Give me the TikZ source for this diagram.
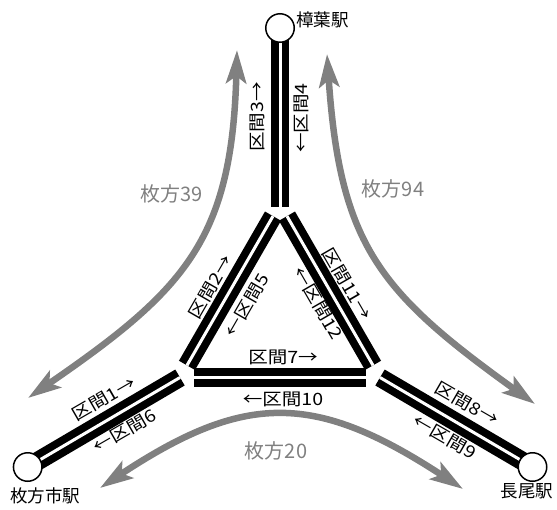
\documentclass[tikz,border=0pt]{standalone}
\usepackage{fontspec}
\usetikzlibrary{arrows.meta}
\newfontfamily\jplabel[FakeStretch=1.15]{Noto Sans CJK JP}
\newfontfamily\jpfont{Noto Sans CJK JP}
\definecolor{arrowgray}{RGB}{128,128,128}
\begin{document}
\begin{tikzpicture}[x=1pt,y=-1pt,
  track/.style={draw=black, line width=7.75pt, double=white, double distance=3pt},
  sec/.style={inner sep=0pt, font=\jplabel\fontsize{17}{17}\selectfont},
  stn/.style={circle, draw=black, fill=white, line width=1.5pt, minimum size=28.5pt, inner sep=0pt},
  stnname/.style={inner sep=0pt, font=\jpfont\fontsize{17.5}{17.5}\selectfont},
  flow/.style={draw=arrowgray, line width=6.5pt, arrows={Stealth[length=33pt,width=20pt,inset=7pt]-Stealth[length=33pt,width=20pt,inset=7pt]}},
  flowlabel/.style={inner sep=0pt, text=arrowgray, font=\jpfont\fontsize{20}{20}\selectfont}]
\useasboundingbox (0,0) rectangle (557,509);
% gray flows
\coordinate (g1a) at (28,398); \coordinate (g1b) at (237,50);
\draw[flow] (g1a) .. controls (185,290) and (232,240) .. (g1b);
\coordinate (g2a) at (327,54); \coordinate (g2b) at (535,404);
\draw[flow] (g2a) .. controls (340,245) and (379,292) .. (g2b);
\coordinate (g3a) at (100,488); \coordinate (g3b) at (463,489);
\draw[flow] (g3a) .. controls (245,392) and (315,392) .. (g3b);
\node[flowlabel] (f39) at (171.5,194) {枚方39};
\node[flowlabel] (f94) at (393,189) {枚方94};
\node[flowlabel] (f20) at (276,451) {枚方20};
% track geometry
\coordinate (T) at (280,204);
\coordinate (L) at (180,377.5);
\coordinate (R) at (380,377.5);
\coordinate (p1) at (280,28);
\coordinate (p2) at (27.7,467);
\coordinate (p3) at (532.5,467);
\draw[track, shorten >=-3pt] (p1) -- (T);
\draw[track] (p2) -- (L);
\draw[track] (p3) -- (R);
\draw[track, shorten <=14pt, shorten >=14pt] (T) -- (L);
\draw[track, shorten <=14pt, shorten >=14pt] (T) -- (R);
\draw[track, shorten <=14pt, shorten >=14pt] (L) -- (R);
% stations
\node[stn] (s1) at (p1) {};
\node[stn] (s2) at (p2) {};
\node[stn] (s3) at (p3) {};
\node[stnname, anchor=west] (n1) at (296,20) {樟葉駅};
\node[stnname] (n2) at (45,496) {枚方市駅};
\node[stnname] (n3) at (527,491) {長尾駅};
% section labels
\node[sec, rotate=90] (k3) at (257,117) {区間3→};
\node[sec, rotate=90] (k4) at (301,118) {←区間4};
\node[sec, rotate=60] (k2) at (211,287) {区間2→};
\node[sec, rotate=60] (k5) at (247,305) {←区間5};
\node[sec, rotate=-60] (k11) at (347,284) {区間11→};
\node[sec, rotate=-60] (k12) at (318,303) {←区間12};
\node[sec] (k7) at (283,357) {区間7→};
\node[sec] (k10) at (283,399) {←区間10};
\node[sec, rotate=30] (k1) at (104,399) {区間1→};
\node[sec, rotate=30] (k6) at (125,431) {←区間6};
\node[sec, rotate=-30] (k8) at (467,404) {区間8→};
\node[sec, rotate=-30] (k9) at (445,437) {←区間9};
\end{tikzpicture}
\end{document}
